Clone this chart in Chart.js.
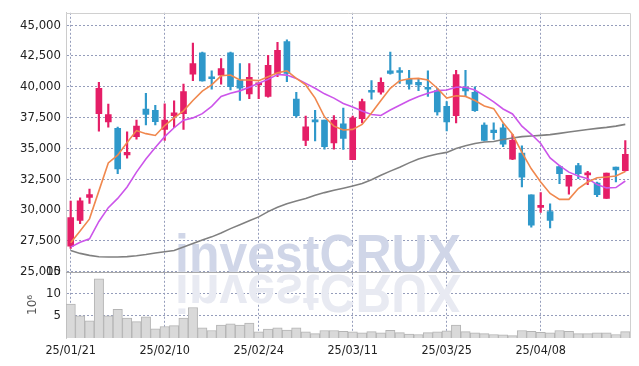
<!DOCTYPE html>
<html>
<head>
<meta charset="utf-8">
<script src="https://cdn.jsdelivr.net/npm/chart.js@4"></script>
<style>
  html, body { margin: 0; padding: 0; background: #fff; }
  #wrap { width: 639px; height: 366px; }
</style>
</head>
<body>
<div id="wrap"><canvas id="chart"></canvas></div>
<script>
// trading days (YY/MM/DD)
const dates = ['25/01/21','25/01/22','25/01/23','25/01/24','25/01/31','25/02/03','25/02/04','25/02/05','25/02/06','25/02/07',
  '25/02/10','25/02/11','25/02/12','25/02/13','25/02/14','25/02/17','25/02/18','25/02/19','25/02/20','25/02/21',
  '25/02/24','25/02/25','25/02/26','25/02/27','25/02/28','25/03/04','25/03/05','25/03/06','25/03/07','25/03/10',
  '25/03/11','25/03/12','25/03/13','25/03/14','25/03/17','25/03/18','25/03/19','25/03/20','25/03/21','25/03/24',
  '25/03/25','25/03/26','25/03/27','25/03/28','25/03/31','25/04/01','25/04/02','25/04/03','25/04/04','25/04/07',
  '25/04/08','25/04/09','25/04/10','25/04/11','25/04/14','25/04/15','25/04/16','25/04/17','25/04/18','25/04/21'];

const opens = [27080,29160,31020,37830,37160,36630,34470,35960,38200,38090,
  36550,37660,37830,41020,42760,40780,40950,42760,40550,39430,
  40150,39220,41080,43660,39000,35660,37270,37300,35440,37000,
  34090,37420,39690,39560,41300,41240,40600,40360,39960,39690,
  38410,37660,39960,39560,36900,36490,36680,34140,34620,31240,
  30220,29880,33530,31940,33610,32860,32200,30940,33480,33190];
const highs = [30740,31000,31700,40360,38600,36730,36340,37300,39480,38500,
  38620,38860,40220,43540,42820,41300,42280,42820,41880,41880,
  40310,42550,43600,43800,39560,37620,38090,37300,37670,38280,
  37620,39000,40500,40730,42820,41560,41340,40680,41300,39880,
  38810,41340,41340,40000,37080,37080,37000,36140,35220,31240,
  31420,30500,33610,32820,33800,33140,32280,33000,33480,35640];
const lows = [26900,28900,30550,36400,36730,32950,34220,35750,36900,36900,
  35660,36680,36550,40500,40450,39800,40220,39750,38890,39030,
  39030,39160,40820,40420,37540,35220,35620,34940,34940,34920,
  34090,37080,39000,39400,41020,40280,39800,39690,39220,37700,
  36420,37080,39290,38000,35620,35740,35140,34090,31880,28620,
  29820,28550,32140,31300,32550,32070,31080,30940,32280,33160];
const closes = [29400,30760,31260,39880,37750,33350,34680,36810,37750,37180,
  37300,37880,39610,41880,40470,40650,41480,40020,39880,40760,
  40310,41750,42950,41080,37660,36760,37160,35140,37300,35820,
  37480,38810,39560,40360,41080,41160,40220,40150,39800,37960,
  37160,41000,39660,38060,35660,36280,35340,35660,32680,28780,
  30380,29160,32950,32820,32950,33000,31260,33000,33260,34520];

// moving averages
const ma5 = [27350,28310,29290,31560,33830,34450,35480,36450,36200,36050,
  36860,37480,38050,38890,39650,40150,40890,40950,40550,40550,
  40500,40820,41130,41300,40680,40150,39080,37560,36810,36500,
  36550,36950,37880,38890,39880,40500,40650,40680,40550,39880,
  39080,39270,39220,38890,38450,38230,37080,36150,34680,33350,
  32280,31350,30870,30870,31750,32280,32630,32680,32760,33130];
const ma20 = [27000,27400,27670,29080,30200,30950,31880,33080,34150,35080,
  35960,36680,37290,37480,37820,38410,39210,39480,39670,39960,
  40280,40600,41000,40950,40680,40280,39880,39430,39080,38650,
  38360,38030,37750,37670,38120,38500,38890,39210,39480,39690,
  39740,39960,39960,39740,39280,38780,38200,37800,36810,36150,
  35400,34230,33610,33080,32760,32550,32070,31800,31830,32360];
const ma60 = [26730,26490,26330,26220,26200,26200,26230,26300,26400,26520,
  26630,26730,27000,27290,27570,27830,28150,28500,28810,29130,
  29450,29880,30230,30520,30740,30950,31210,31420,31610,31780,
  31960,32150,32470,32820,33160,33480,33830,34150,34360,34550,
  34680,35000,35220,35400,35520,35560,35720,35850,35960,36010,
  36060,36120,36220,36330,36440,36540,36630,36710,36810,36950];

// volume, millions
const volume = [7.7,5.0,3.9,13.4,5.0,6.5,4.5,3.7,4.8,2.1,
  2.6,2.8,4.5,6.9,2.3,1.7,2.9,3.2,2.9,3.4,
  1.4,2.0,2.3,1.8,2.3,1.4,1.0,1.7,1.7,1.5,
  1.4,1.15,1.45,1.15,1.75,1.2,0.9,0.8,1.2,1.4,
  1.6,2.9,1.45,1.15,1.0,0.8,0.7,0.55,1.7,1.5,
  1.3,1.15,1.7,1.5,1.0,1.0,1.15,1.15,0.8,1.45];

const priceTicks = [25000,27500,30000,32500,35000,37500,40000,42500,45000];
const volumeTicks = [5,10,15];

const UP = '#e51e67';
const DOWN = '#2f98ca';
const candleColors = closes.map((c, i) => c >= opens[i] ? UP : DOWN);
const gridColor = '#959dbb';
const labelFont = { family: 'DejaVu Sans Condensed', size: 13 };

const watermark = {
  id: 'watermark',
  beforeDatasetsDraw(chart) {
    const ctx = chart.ctx;
    const base = chart.scales.y.bottom;
    ctx.save();
    ctx.font = 'bold 53px "Liberation Sans"';
    ctx.textAlign = 'center';
    ctx.textBaseline = 'alphabetic';
    ctx.fillStyle = '#e8eaf2';
    ctx.save();
    ctx.translate(0, base * 2 + 3);
    ctx.scale(1, -1);
    ctx.fillText('investCRUX', 318, base, 286);
    ctx.restore();
    ctx.fillStyle = '#d0d6e8';
    ctx.fillText('investCRUX', 318, base, 286);
    ctx.restore();
  },
  afterDatasetsDraw(chart) {
    const ctx = chart.ctx;
    const a = chart.chartArea;
    const sep = chart.scales.y.bottom;
    ctx.save();
    ctx.strokeStyle = '#a9a9a9';
    ctx.lineWidth = 1;
    ctx.beginPath();
    ctx.moveTo(a.left, Math.round(sep) + 0.5);
    ctx.lineTo(a.right, Math.round(sep) + 0.5);
    ctx.stroke();
    ctx.strokeStyle = '#d0d0d0';
    ctx.beginPath();
    ctx.moveTo(a.left, Math.round(a.top) + 0.5);
    ctx.lineTo(Math.round(a.right) + 0.5, Math.round(a.top) + 0.5);
    ctx.lineTo(Math.round(a.right) + 0.5, a.bottom);
    ctx.stroke();
    ctx.restore();
  }
};

new Chart(document.getElementById('chart'), {
  type: 'bar',
  data: {
    labels: dates,
    datasets: [
      { type: 'line', label: 'MA5', data: ma5, yAxisID: 'y', borderColor: '#f0884e', borderWidth: 1.6, pointRadius: 0, order: 0 },
      { type: 'line', label: 'MA20', data: ma20, yAxisID: 'y', borderColor: '#cc55ea', borderWidth: 1.6, pointRadius: 0, order: 0 },
      { type: 'line', label: 'MA60', data: ma60, yAxisID: 'y', borderColor: '#808080', borderWidth: 1.6, pointRadius: 0, order: 0 },
      { label: 'body', data: opens.map((o, i) => [o, closes[i]]), yAxisID: 'y', backgroundColor: candleColors, barThickness: 6, minBarLength: 2, order: 1 },
      { label: 'wick', data: lows.map((l, i) => [l, highs[i]]), yAxisID: 'y', backgroundColor: candleColors, barThickness: 1.5, order: 2 },
      { label: 'volume', data: volume, yAxisID: 'yVol', backgroundColor: '#d9d9d9', borderColor: '#b4b4b4', borderWidth: 1, categoryPercentage: 1, barPercentage: 1, order: 3 }
    ]
  },
  options: {
    responsive: true,
    maintainAspectRatio: false,
    animation: false,
    layout: { padding: { top: 9, right: 9, left: 0, bottom: 0 } },
    datasets: { bar: { grouped: false } },
    plugins: { legend: { display: false }, tooltip: { enabled: false } },
    scales: {
      x: {
        offset: true,
        grid: {
          offset: false,
          drawTicks: false,
          lineWidth: 1,
          color: c => (c.index % 10 === 0 ? gridColor : 'transparent')
        },
        border: { display: false, dash: [2, 2] },
        ticks: {
          autoSkip: false,
          maxRotation: 0,
          padding: 5,
          color: '#222',
          font: { family: 'DejaVu Sans Condensed', size: 12.5 },
          callback: (v, i) => (i % 10 === 0 ? dates[i] : '')
        },
        afterFit: s => { s.height = 28; }
      },
      yVol: {
        position: 'left',
        stack: 'panes',
        stackWeight: 67,
        min: 0,
        max: 15,
        afterBuildTicks: s => { s.ticks = volumeTicks.map(v => ({ value: v })); },
        grid: { drawTicks: false, color: gridColor, lineWidth: 1 },
        border: { color: '#cccccc', dash: [2, 2] },
        ticks: { autoSkip: false, padding: 5, color: '#222', font: labelFont },
        title: { display: true, text: '10⁶', color: '#555', font: { family: 'DejaVu Sans', size: 12 }, padding: { top: 26, bottom: 0 } },
        afterFit: s => { s.width = 66; }
      },
      y: {
        position: 'left',
        stack: 'panes',
        stackWeight: 262,
        min: 25000,
        max: 46000,
        afterBuildTicks: s => { s.ticks = priceTicks.map(v => ({ value: v })); },
        grid: { drawTicks: false, color: gridColor, lineWidth: 1 },
        border: { color: '#cccccc', dash: [2, 2] },
        ticks: { autoSkip: false, padding: 5, color: '#222', font: labelFont, callback: v => v.toLocaleString('en-US') },
        afterFit: s => { s.width = 66; }
      }
    }
  },
  plugins: [watermark]
});
</script>
</body>
</html>
